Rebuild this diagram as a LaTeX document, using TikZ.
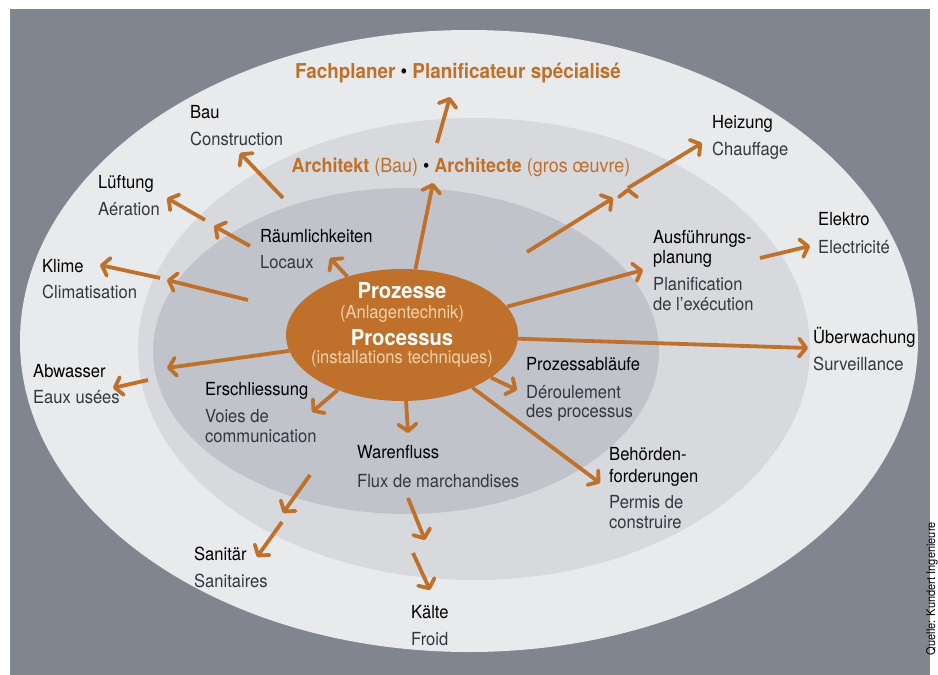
\documentclass[tikz,border=0pt]{standalone}
\usepackage{fontspec}
\setmainfont{TeX Gyre Heros}[FakeStretch=0.92]
\usetikzlibrary{arrows.meta,shapes.geometric}
\definecolor{bggray}{RGB}{128,133,143}
\definecolor{ringout}{RGB}{233,234,236}
\definecolor{ringmid}{RGB}{215,217,221}
\definecolor{ringin}{RGB}{192,195,202}
\definecolor{procorange}{RGB}{191,113,44}
\definecolor{proclight}{RGB}{242,210,172}
\definecolor{frtext}{RGB}{52,55,64}
\newcommand{\lblfont}{\fontsize{18}{21}\selectfont}

\begin{document}
\begin{tikzpicture}[x=1pt,y=-1pt]
	\tikzstyle{de-lbl}=[anchor=base west,inner sep=0pt,text=black,font=\lblfont]
	\tikzstyle{fr-lbl}=[anchor=base west,inner sep=0pt,text=frtext,font=\lblfont]
	\tikzstyle{head-lbl}=[anchor=base,inner sep=0pt,text=procorange]
	\tikzstyle{proc-lbl}=[anchor=base,inner sep=0pt]
	\tikzstyle{flow}=[draw=procorange,line width=3.8pt,-{Straight Barb[length=7pt,width=18pt,round]}]
	\useasboundingbox (0,0) rectangle (938,675);

	% rings
	\fill[bggray] (10,9) rectangle (930,675);
	\fill[ringout] (469,341) ellipse [x radius=449, y radius=311];
	\fill[ringmid] (474,349) ellipse [x radius=336, y radius=231];
	\fill[ringin] (406,351) ellipse [x radius=253, y radius=163];

	% processes
	\node[ellipse,fill=procorange,inner sep=0pt,minimum width=232,minimum height=132] (proc) at (402,335) {};
	\node[proc-lbl,text=white,font=\bfseries\fontsize{22}{26}\selectfont] (proc-de) at (402,298) {Prozesse};
	\node[proc-lbl,text=proclight,font=\lblfont] (proc-de2) at (402,318) {(Anlagentechnik)};
	\node[proc-lbl,text=white,font=\bfseries\fontsize{22}{26}\selectfont] (proc-fr) at (402,345) {Processus};
	\node[proc-lbl,text=proclight,font=\lblfont] (proc-fr2) at (402,363) {(installations techniques)};

	% planners
	\node[head-lbl,font=\bfseries\fontsize{20.5}{24}\selectfont] (fach) at (458,78) {Fachplaner {\mdseries\color{black}•} Planificateur spécialisé};
	\node[head-lbl,font=\fontsize{19.5}{23}\selectfont] (archi) at (461,172) {\textbf{Architekt} (Bau) {\color{black}•} \textbf{Architecte} (gros œuvre)};

	% labels
	\node[de-lbl] (bau) at (190,118) {Bau};
	\node[fr-lbl] (bau-fr) at (190,145) {Construction};
	\node[de-lbl] (lue) at (98,188) {Lüftung};
	\node[fr-lbl] (lue-fr) at (98,215) {Aération};
	\node[de-lbl] (kli) at (42,272) {Klime};
	\node[fr-lbl] (kli-fr) at (42,298) {Climatisation};
	\node[de-lbl] (abw) at (33,377) {Abwasser};
	\node[fr-lbl] (abw-fr) at (33,403) {Eaux usées};
	\node[de-lbl] (rau) at (260,242) {Räumlichkeiten};
	\node[fr-lbl] (rau-fr) at (260,268) {Locaux};
	\node[de-lbl] (ers) at (205,395) {Erschliessung};
	\node[fr-lbl] (ers-fr) at (205,422) {Voies de};
	\node[fr-lbl] (ers-fr2) at (205,442) {communication};
	\node[de-lbl] (war) at (357,458) {Warenfluss};
	\node[fr-lbl] (war-fr) at (357,487) {Flux de marchandises};
	\node[de-lbl] (san) at (194,560) {Sanitär};
	\node[fr-lbl] (san-fr) at (194,587) {Sanitaires};
	\node[de-lbl] (kae) at (411,618) {Kälte};
	\node[fr-lbl] (kae-fr) at (411,645) {Froid};
	\node[de-lbl] (pro) at (526,370) {Prozessabläufe};
	\node[fr-lbl] (pro-fr) at (526,398) {Déroulement};
	\node[fr-lbl] (pro-fr2) at (526,417) {des processus};
	\node[de-lbl] (beh) at (609,460) {Behörden-};
	\node[de-lbl] (beh2) at (609,482) {forderungen};
	\node[fr-lbl] (beh-fr) at (609,508) {Permis de};
	\node[fr-lbl] (beh-fr2) at (609,528) {construire};
	\node[de-lbl] (ueb) at (813,343) {Überwachung};
	\node[fr-lbl] (ueb-fr) at (813,370) {Surveillance};
	\node[de-lbl] (aus) at (653,243) {Ausführungs-};
	\node[de-lbl] (aus2) at (653,263) {planung};
	\node[fr-lbl] (aus-fr) at (653,290) {Planification};
	\node[fr-lbl] (aus-fr2) at (653,310) {de l’exécution};
	\node[de-lbl] (ele) at (818,225) {Elektro};
	\node[fr-lbl] (ele-fr) at (818,253) {Electricité};
	\node[de-lbl] (hei) at (712,128) {Heizung};
	\node[fr-lbl] (hei-fr) at (712,155) {Chauffage};

	\node[rotate=90,anchor=east,inner sep=0pt,font=\fontsize{12}{14}\selectfont] (quelle) at (932,522) {Quelle: Kundert Ingenieure};

	% arrow ends
	\coordinate (fach-a) at (433,183);
	\coordinate (fach-t) at (437,143);
	\coordinate (fach-h) at (450,97);
	\coordinate (rau-h) at (330,258);
	\coordinate (bau-t) at (283,198);
	\coordinate (bau-h) at (240,153);
	\coordinate (lue-t) at (250,246);
	\coordinate (lue-m) at (214,226);
	\coordinate (lue-t2) at (205,220);
	\coordinate (lue-h) at (167,198);
	\coordinate (kli-t) at (248,300);
	\coordinate (kli-m) at (167,280);
	\coordinate (kli-t2) at (160,278);
	\coordinate (kli-h) at (100,265);
	\coordinate (abw-m) at (167,368);
	\coordinate (abw-t) at (148,380);
	\coordinate (abw-h) at (113,388);
	\coordinate (ers-h) at (312,412);
	\coordinate (war-h) at (408,433);
	\coordinate (san-t) at (310,475);
	\coordinate (san-m) at (283,513);
	\coordinate (san-t2) at (282,522);
	\coordinate (san-h) at (257,557);
	\coordinate (kae-t) at (408,498);
	\coordinate (kae-m) at (425,540);
	\coordinate (kae-t2) at (413,553);
	\coordinate (kae-h) at (430,590);
	\coordinate (pro-h) at (517,390);
	\coordinate (beh-h) at (600,483);
	\coordinate (ueb-h) at (808,348);
	\coordinate (aus-h) at (643,270);
	\coordinate (ele-t) at (760,258);
	\coordinate (ele-h) at (810,246);
	\coordinate (hei-t) at (527,252);
	\coordinate (hei-m) at (613,198);
	\coordinate (hei-t2) at (628,188);
	\coordinate (hei-h) at (702,143);

	\path[flow]
		(proc)		edge	(fach-a)
		(fach-t)	edge	(fach-h)
		(proc)		edge	(rau-h)
		(bau-t)		edge	(bau-h)
		(lue-t)		edge	(lue-m)
		(lue-t2)	edge	(lue-h)
		(kli-t)		edge	(kli-m)
		(kli-t2)	edge	(kli-h)
		(proc)		edge	(abw-m)
		(abw-t)		edge	(abw-h)
		(proc)		edge	(ers-h)
		(proc)		edge	(war-h)
		(san-t)		edge	(san-m)
		(san-t2)	edge	(san-h)
		(kae-t)		edge	(kae-m)
		(kae-t2)	edge	(kae-h)
		(proc)		edge	(pro-h)
		(proc)		edge	(beh-h)
		(proc)		edge	(ueb-h)
		(proc)		edge	(aus-h)
		(ele-t)		edge	(ele-h)
		(hei-t)		edge	(hei-m)
		(hei-t2)	edge	(hei-h);

\end{tikzpicture}
\end{document}
